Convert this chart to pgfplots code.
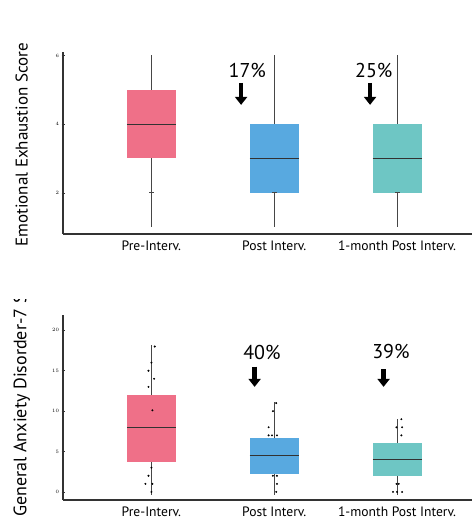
\documentclass[border=0pt]{standalone}
\usepackage{pgfplots}
\pgfplotsset{compat=1.18}
\usepgfplotslibrary{statistics}
\usetikzlibrary{arrows.meta}
\usepackage{fontspec}
\setmainfont{PT Sans}
\definecolor{cpink}{RGB}{239,112,136}
\definecolor{cblue}{RGB}{88,169,224}
\definecolor{cteal}{RGB}{110,198,196}
\definecolor{wgray}{RGB}{70,70,70}
\definecolor{mgray}{RGB}{50,50,50}
\tikzset{
  pct/.style={font=\fontsize{20}{20}\selectfont},
  darr/.style={line width=4.5pt, -{Triangle[width=12pt,length=8pt]}},
}
\pgfplotsset{
  myax/.style={
    scale only axis, width=409pt,
    xmin=-0.72, xmax=2.61,
    axis x line*=bottom, axis y line*=left,
    axis line style={line width=1.3pt, draw=black!80, -},
    xtick={0,1,2}, xticklabels={Pre-Interv., Post Interv., 1-month Post Interv.},
    xtick style={draw=none},
    xticklabel style={font=\fontsize{13.6}{14}\selectfont, yshift=-2pt},
    yticklabel style={font=\fontsize{4}{4}\selectfont, xshift=1pt},
    ytick style={draw=black!80, line width=0.5pt},
    major tick length=3pt, tick align=center,
    boxplot/draw direction=y,
    boxplot/box extend=0.4, boxplot/whisker extend=0,
    clip=false,
  },
  bx/.style={draw=wgray, line width=0.8pt,
    boxplot/every box/.style={draw=none, fill=#1},
    boxplot/every median/.style={draw=mgray, line width=1.2pt}},
  dots/.style={only marks, mark=*, mark size=0.75pt, black},
}
\begin{document}
\begin{tikzpicture}
% ---------- top panel ----------
\begin{axis}[myax, at={(63pt,287pt)}, anchor=south west, height=182pt,
  ymin=0.8, ymax=6.1, ytick={2,4,6},
  ylabel={Emotional Exhaustion Score},
  ylabel style={at={(axis description cs:-0.101,0.49)}, anchor=center, font=\fontsize{17}{17}\selectfont}]
\addplot[bx=cpink, boxplot prepared={draw position=0, lower whisker=1, lower quartile=3, median=4, upper quartile=5, upper whisker=6}] coordinates {};
\addplot[bx=cblue, boxplot prepared={draw position=1, lower whisker=1, lower quartile=2, median=3, upper quartile=4, upper whisker=6}] coordinates {};
\addplot[bx=cteal, boxplot prepared={draw position=2, lower whisker=1, lower quartile=2, median=3, upper quartile=4, upper whisker=6}] coordinates {};
\addplot[only marks, mark=-, mark size=2.5pt, wgray, line width=0.8pt] coordinates {(0,2) (1,2) (2,2)};
\node[pct] at (axis cs:0.78,5.57) {17\%};
\node[pct] at (axis cs:1.81,5.57) {25\%};
\draw[darr] (axis cs:0.73,5.2) -- (axis cs:0.73,4.56);
\draw[darr] (axis cs:1.78,5.2) -- (axis cs:1.78,4.56);
\end{axis}
% ---------- bottom panel ----------
\begin{scope}
\clip (0,0) rectangle (472pt,221pt);
\begin{axis}[myax, at={(63pt,21pt)}, anchor=south west, height=185pt,
  ymin=-1, ymax=21.9, ytick={0,5,10,15,20},
  ylabel={General Anxiety Disorder-7 Score},
  ylabel style={at={(axis description cs:-0.101,-0.11)}, anchor=west, font=\fontsize{18}{18}\selectfont}]
\addplot[bx=cpink, boxplot prepared={draw position=0, lower whisker=-0.4, lower quartile=3.7, median=8, upper quartile=12, upper whisker=18.2}] coordinates {};
\addplot[bx=cblue, boxplot prepared={draw position=1, lower whisker=-0.4, lower quartile=2.2, median=4.5, upper quartile=6.7, upper whisker=11.1}] coordinates {};
\addplot[bx=cteal, boxplot prepared={draw position=2, lower whisker=-0.4, lower quartile=2, median=4, upper quartile=6, upper whisker=9}] coordinates {};
\addplot[dots] coordinates {(0.027,18) (0,16) (-0.024,15) (0.022,14) (-0.024,13) (0.008,10.1) (0,3) (-0.024,2) (-0.049,1) (0.008,1) (0,0)};
\addplot[dots] coordinates {(1.016,11) (0.989,10) (0.954,8) (0.954,7) (0.981,7) (1.022,7) (0.989,2) (1.022,2) (1.022,1) (1.016,0)};
\addplot[dots] coordinates {(2.035,9) (1.995,8) (2.041,8) (2.035,7) (1.995,1) (2.014,1) (1.967,0) (2,0) (2.041,0)};
\node[pct] at (axis cs:0.90,17.3) {40\%};
\node[pct] at (axis cs:1.95,17.4) {39\%};
\draw[darr] (axis cs:0.84,15.5) -- (axis cs:0.84,13.0);
\draw[darr] (axis cs:1.89,15.2) -- (axis cs:1.89,13.0);
\end{axis}
\end{scope}
\pgfresetboundingbox
\useasboundingbox (0,0) rectangle (472pt,521pt);
\end{tikzpicture}
\end{document}
